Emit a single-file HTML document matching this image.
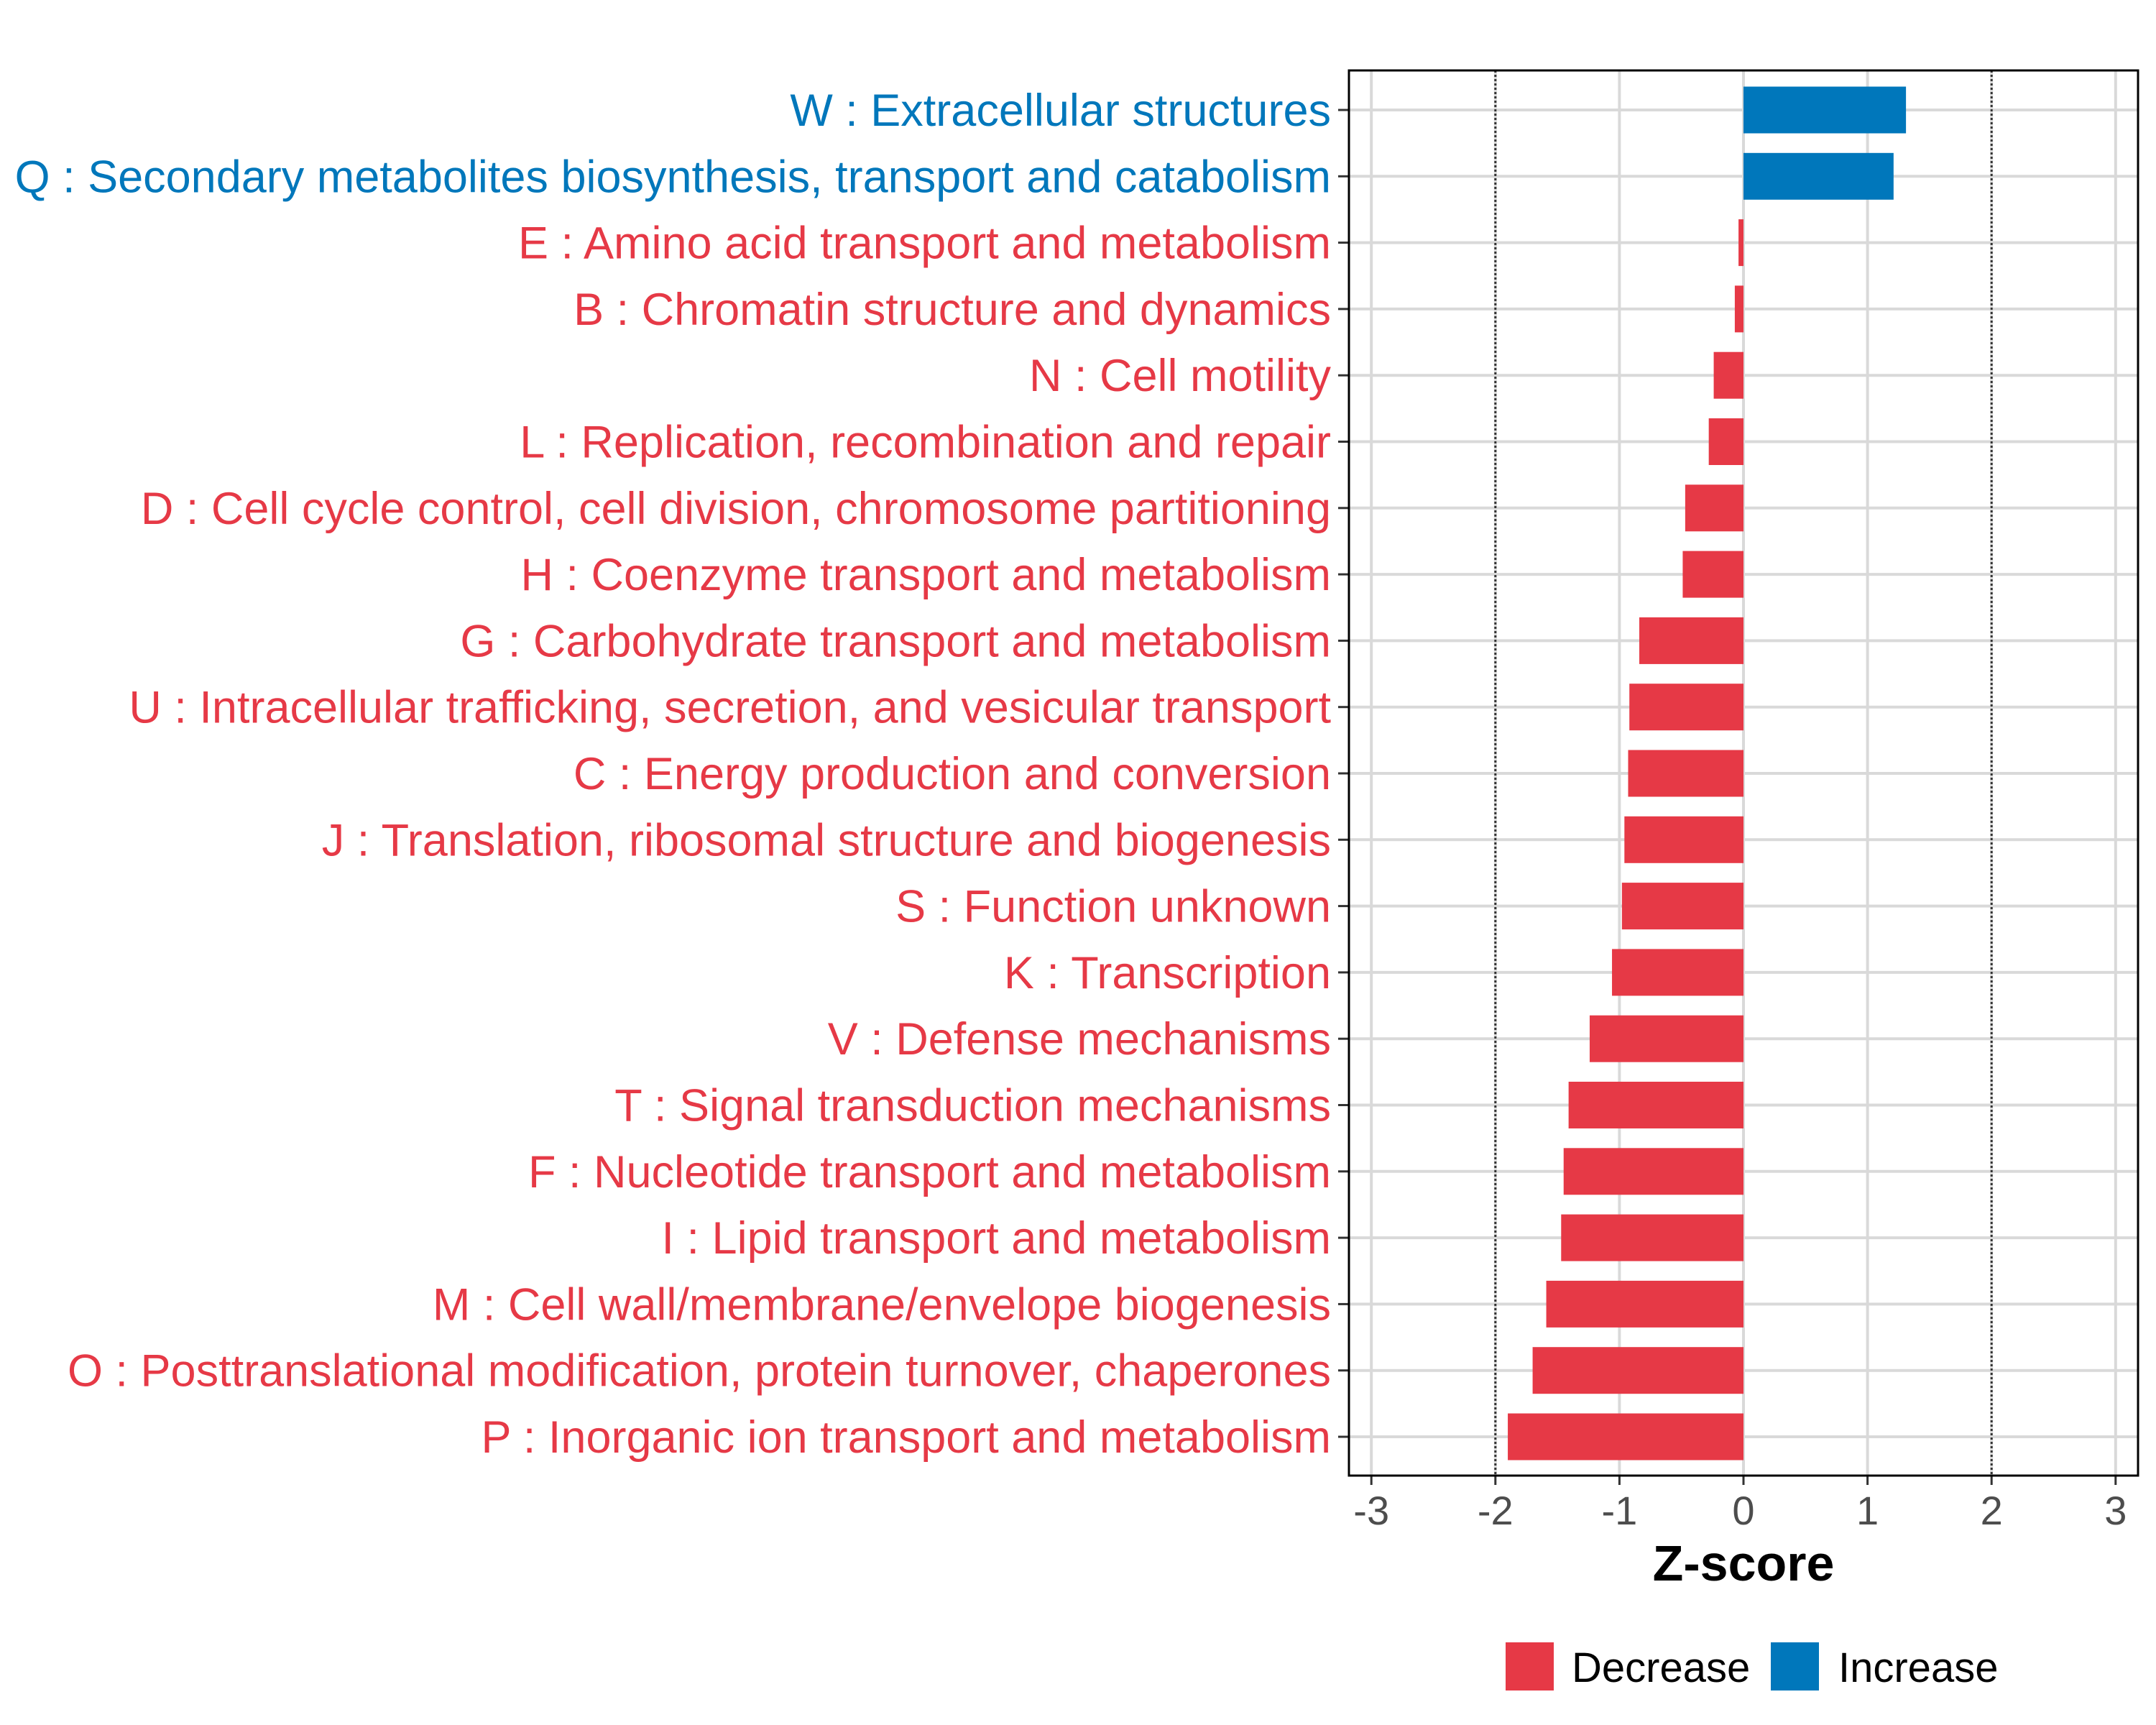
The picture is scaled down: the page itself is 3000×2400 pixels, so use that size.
<!DOCTYPE html>
<html><head><meta charset="utf-8"><style>
html,body{margin:0;padding:0;background:#fff;}
svg{display:block;font-family:"Liberation Sans",sans-serif;}
</style></head><body>
<svg id="chart" width="3000" height="2400" viewBox="0 0 3000 2400" xmlns="http://www.w3.org/2000/svg">
<rect x="0" y="0" width="3000" height="2400" fill="#fff"/>
<g id="grid"></g>
<g id="bars"></g>
<g id="labels"></g>
<g id="xaxis"></g>
<rect x="1877" y="98" width="1098" height="1955" fill="none" stroke="#000" stroke-width="3"/>
<text x="2426" y="2199" font-size="70" font-weight="bold" text-anchor="middle">Z-score</text>
<g>
<rect x="2095" y="2285" width="67" height="67" fill="#E63946"/>
<text x="2187" y="2340" font-size="58">Decrease</text>
<rect x="2464" y="2285" width="67" height="67" fill="#0077BB"/>
<text x="2558" y="2340" font-size="58">Increase</text>
</g>
</svg>
<script>
const categories = ["W : Extracellular structures","Q : Secondary metabolites biosynthesis, transport and catabolism","E : Amino acid transport and metabolism","B : Chromatin structure and dynamics","N : Cell motility","L : Replication, recombination and repair","D : Cell cycle control, cell division, chromosome partitioning","H : Coenzyme transport and metabolism","G : Carbohydrate transport and metabolism","U : Intracellular trafficking, secretion, and vesicular transport","C : Energy production and conversion","J : Translation, ribosomal structure and biogenesis","S : Function unknown","K : Transcription","V : Defense mechanisms","T : Signal transduction mechanisms","F : Nucleotide transport and metabolism","I : Lipid transport and metabolism","M : Cell wall/membrane/envelope biogenesis","O : Posttranslational modification, protein turnover, chaperones","P : Inorganic ion transport and metabolism"];
const zscores = [1.31,1.21,-0.04,-0.07,-0.24,-0.28,-0.47,-0.49,-0.84,-0.92,-0.93,-0.96,-0.98,-1.06,-1.24,-1.41,-1.45,-1.47,-1.59,-1.70,-1.90];
const xTicks = [-3,-2,-1,0,1,2,3];
const xTickLabels = ["-3","-2","-1","0","1","2","3"];
const refLines = [-2,2];

const NS="http://www.w3.org/2000/svg";
const X0=2426, XU=172.6, Y0=153, YS=92.3, BH=65, PL=1877, PR=2975, PT=98, PB=2053;
const xs=v=>X0+v*XU, ys=i=>Y0+i*YS;
function mk(tag,attrs,parent){const e=document.createElementNS(NS,tag);for(const k in attrs)e.setAttribute(k,attrs[k]);parent.appendChild(e);return e;}
const grid=document.getElementById('grid'),bars=document.getElementById('bars'),labels=document.getElementById('labels'),xaxis=document.getElementById('xaxis');
const RED="#E63946",BLUE="#0077BB";
xTicks.forEach((t,i)=>{
  const g=mk('line',{x1:xs(t),x2:xs(t),y1:PT,y2:PB,stroke:'#d9d9d9','stroke-width':4},grid);
  
  
  const tk=mk('line',{x1:xs(t),x2:xs(t),y1:PB,y2:PB+13,stroke:'#333','stroke-width':3},xaxis);
  
  
  const tl=mk('text',{x:xs(t),y:2121,'font-size':56,'text-anchor':'middle',fill:'#4d4d4d'},xaxis);
  tl.textContent=xTickLabels[i];
  
  
});
categories.forEach((c,i)=>{
  const y=ys(i);
  const g=mk('line',{x1:PL,x2:PR,y1:y,y2:y,stroke:'#d9d9d9','stroke-width':4},grid);
  
  
});
refLines.forEach(v=>{
  const l=mk('line',{x1:xs(v),x2:xs(v),y1:PT,y2:PB,stroke:'#333','stroke-width':3,'stroke-dasharray':'3,3'},grid);
  
  
});
categories.forEach((c,i)=>{
  const v=zscores[i], y=ys(i), col=v>=0?BLUE:RED;
  const x1=Math.min(xs(0),xs(v)), w=Math.abs(xs(v)-xs(0));
  const b=mk('rect',{x:x1,y:y-BH/2,width:w,height:BH,fill:col},bars);
  
  
  const t=mk('line',{x1:PL-15,x2:PL,y1:y,y2:y,stroke:'#333','stroke-width':3},labels);
  
  
  const lb=mk('text',{x:1852,y:y+22,'font-size':63,'text-anchor':'end',fill:col},labels);
  lb.textContent=c;
  
  
});
</script>
</body></html>
